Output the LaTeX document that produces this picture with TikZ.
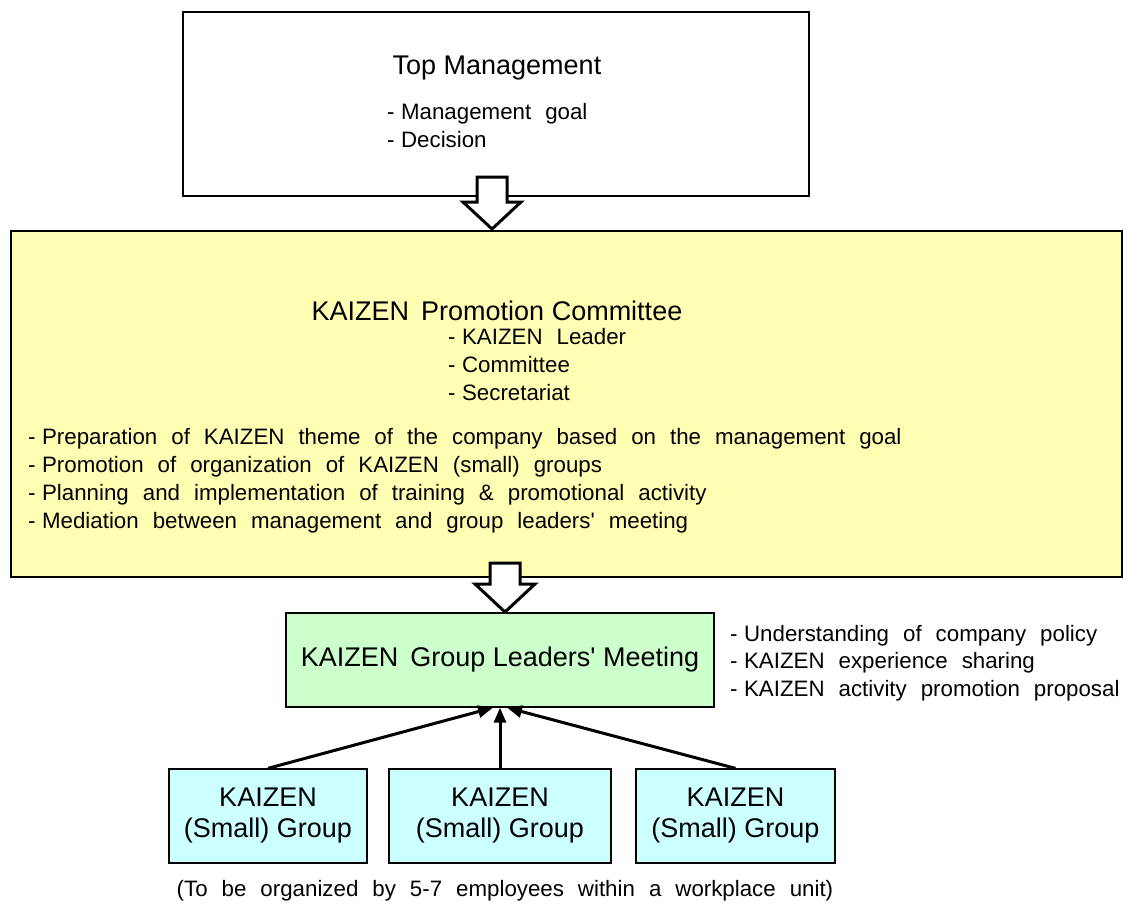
\documentclass[tikz,border=0pt]{standalone}
\usepackage{fontspec}
\setmainfont{Liberation Sans}[Ligatures=TeXOff]
\usetikzlibrary{arrows.meta}
\definecolor{paleyellow}{HTML}{FFFFB3}
\definecolor{palegreen}{HTML}{CCFFCC}
\definecolor{palecyan}{HTML}{CCFFFF}
% list dash with a normal gap after it
\newcommand\bul{-\kern6.5pt\ignorespaces}
% list text: wide word spacing
\newcommand\listfont{\fontsize{22.3}{26}\selectfont\spaceskip 14pt\relax}
\tikzset{
  panel/.style={draw=black, line width=1.3pt, inner sep=0pt},
  hollowarrow/.style={draw=black, fill=white, line width=3pt, line join=miter},
  feed/.style={draw=black, line width=3pt, -{Triangle[length=15pt,width=12pt]}},
  big/.style={font=\fontsize{27}{31}\selectfont},
  txt/.style={font=\listfont, anchor=base west, inner sep=0pt},
  grouptxt/.style={font=\fontsize{27}{31}\selectfont, align=center}
}
\begin{document}
\begin{tikzpicture}[x=1pt,y=-1pt]
\useasboundingbox (0,0) rectangle (1140,908);

% top management
\draw[panel] (183,12) rectangle (809,196);
\node[big, anchor=base] (top) at (497,74) {Top Management};
\node[txt] (tm1) at (387,119) {\bul Management goal};
\node[txt] (tm2) at (387,147) {\bul Decision};

% arrow top -> committee
\draw[hollowarrow] (477,177) -- (507,177) -- (507,202) -- (521,202) -- (492,229)
  -- (463,202) -- (477,202) -- cycle;

% promotion committee
\draw[panel, fill=paleyellow, line width=2pt] (11,231) rectangle (1122,577);
\node[big, anchor=base] (kpc) at (497,320) {KAIZEN\, Promotion Committee};
\node[txt] (k1) at (448,344) {\bul KAIZEN Leader};
\node[txt] (k2) at (448,372) {\bul Committee};
\node[txt] (k3) at (448,400) {\bul Secretariat};
\node[txt] (p1) at (28,444) {\bul Preparation of KAIZEN theme of the company based on the management goal};
\node[txt] (p2) at (28,472) {\bul Promotion of organization of KAIZEN (small) groups};
\node[txt] (p3) at (28,500) {\bul Planning and implementation of training \& promotional activity};
\node[txt] (p4) at (28,528) {\bul Mediation between management and group leaders' meeting};

% arrow committee -> leaders' meeting
\draw[hollowarrow] (490,563) -- (520,563) -- (520,584) -- (535,584) -- (505,612)
  -- (475,584) -- (490,584) -- cycle;

% leaders' meeting
\node[panel, fill=palegreen, minimum width=428pt, minimum height=94pt] (glm) at (500,660) {};
\node[big] at (glm.center) {KAIZEN\, Group Leaders' Meeting};
\node[txt] (g1) at (730,641) {\bul Understanding of company policy};
\node[txt] (g2) at (730,668) {\bul KAIZEN experience sharing};
\node[txt] (g3) at (730,696) {\bul KAIZEN activity promotion proposal};

% small groups
\node[panel, fill=palecyan, minimum width=198pt, minimum height=94pt] (sg1) at (268,816) {};
\node[panel, fill=palecyan, minimum width=222pt, minimum height=94pt] (sg2) at (500,816) {};
\node[panel, fill=palecyan, minimum width=199pt, minimum height=94pt] (sg3) at (735.5,816) {};
\node[grouptxt] at (sg1.center) {KAIZEN\\(Small) Group};
\node[grouptxt] at (sg2.center) {KAIZEN\\(Small) Group};
\node[grouptxt] at (sg3.center) {KAIZEN\\(Small) Group};

\coordinate (in1) at ([xshift=-7pt]glm.south);
\coordinate (in3) at ([xshift=7pt]glm.south);
\draw[feed] (sg1.north) -- (in1);
\draw[feed] (sg2.north) -- (glm.south);
\draw[feed] (sg3.north) -- (in3);

\node[txt, anchor=base] (note) at (505,896) {(To be organized by 5-7 employees within a workplace unit)};
\end{tikzpicture}
\end{document}
